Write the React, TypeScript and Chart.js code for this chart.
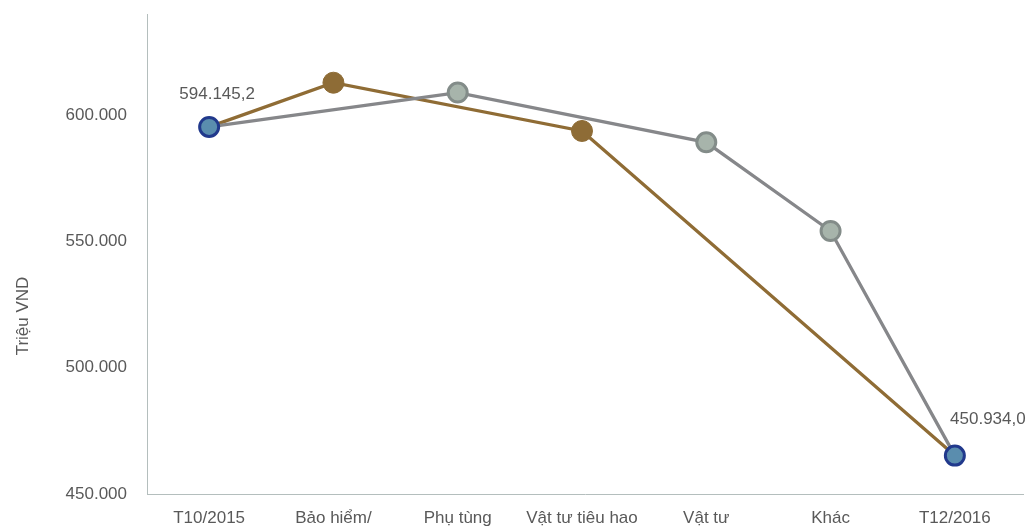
import React, { useEffect, useRef } from "react";
import { Chart, registerables } from "chart.js";

Chart.register(...registerables);

const categories = ["T10/2015", "Bảo hiểm/", "Phụ tùng", "Vật tư tiêu hao", "Vật tư", "Khác", "T12/2016"];
const endpointValues = [595300, null, null, null, null, null, 465200];
const brownValues = [595300, 612800, null, 593700, null, null, 465200];
const grayValues = [595300, null, 608900, null, 589200, 554100, 465200];
const endpointLabels = ["594.145,2", "", "", "", "", "", "450.934,0"];
const yTicks = [450000, 500000, 550000, 600000];
const yTitle = "Triệu VND";

const FONT = "'Liberation Sans', Arial, sans-serif";
const TEXT = "#595959";
const AXIS = "#b4bebd";

function fmt(v: number) {
  return String(v).replace(/\B(?=(\d{3})+(?!\d))/g, ".");
}

export default function App() {
  const ref = useRef<HTMLCanvasElement | null>(null);
  useEffect(() => {
    if (!ref.current) return;
    const extras = {
      id: "extras",
      beforeDatasetsDraw(chart: any) {
        const { ctx, chartArea } = chart;
        ctx.save();
        ctx.strokeStyle = AXIS;
        ctx.lineWidth = 1;
        ctx.beginPath();
        ctx.moveTo(chartArea.left, chartArea.bottom + 0.5);
        ctx.lineTo(1024, chartArea.bottom + 0.5);
        ctx.stroke();
        ctx.translate(23, 316);
        ctx.rotate(-Math.PI / 2);
        ctx.fillStyle = TEXT;
        ctx.font = `17px ${FONT}`;
        ctx.textAlign = "center";
        ctx.textBaseline = "middle";
        ctx.fillText(yTitle, 0, 0);
        ctx.restore();
      },
      afterDatasetsDraw(chart: any) {
        const { ctx } = chart;
        const meta = chart.getDatasetMeta(0);
        ctx.save();
        ctx.fillStyle = TEXT;
        ctx.font = `17px ${FONT}`;
        ctx.textAlign = "center";
        ctx.textBaseline = "middle";
        const offs: Record<number, [number, number]> = { 0: [8, -33], 6: [33, -36] };
        endpointLabels.forEach((t, i) => {
          if (!t) return;
          const p = meta.data[i];
          const o = offs[i] || [0, -30];
          ctx.fillText(t, p.x + o[0], p.y + o[1]);
        });
        ctx.restore();
      },
    };
    const chart = new Chart(ref.current, {
      type: "line",
      data: {
        labels: categories,
        datasets: [
          {
            data: endpointValues,
            showLine: false,
            pointRadius: 9.5,
            pointBorderWidth: 3,
            pointBorderColor: "#21398c",
            pointBackgroundColor: "#5a8dae",
          },
          {
            data: grayValues,
            spanGaps: true,
            borderColor: "#86878a",
            borderWidth: 3.3,
            pointRadius: [0, 0, 9.5, 0, 9.5, 9.5, 0],
            pointBorderWidth: 3,
            pointBorderColor: "#838c89",
            pointBackgroundColor: "#a7b4ab",
          },
          {
            data: brownValues,
            spanGaps: true,
            borderColor: "#8f6c35",
            borderWidth: 3.3,
            pointRadius: [0, 10.5, 0, 10.5, 0, 0, 0],
            pointBorderWidth: 1,
            pointBorderColor: "#8e6c36",
            pointBackgroundColor: "#8e6c36",
          },
        ],
      } as any,
      options: {
        responsive: false,
        animation: false,
        events: [],
        layout: { padding: { top: 14, right: 13, left: 0, bottom: 0 } },
        plugins: { legend: { display: false }, tooltip: { enabled: false } },
        scales: {
          x: {
            offset: true,
            grid: { display: false, drawTicks: false },
            border: { display: false },
            ticks: { color: TEXT, font: { family: FONT, size: 17 }, padding: 14, maxRotation: 0, autoSkip: false },
            afterFit: (s: any) => { s.height = 35; s.paddingLeft = 0; s.paddingRight = 0; },
          },
          y: {
            min: 450000,
            max: 640000,
            grid: { display: false, drawTicks: false },
            border: { display: true, color: AXIS, width: 1 },
            ticks: {
              color: TEXT,
              font: { family: FONT, size: 17 },
              padding: 20,
              stepSize: 50000,
              callback: (v: any) => fmt(Number(v)),
            },
            afterBuildTicks: (s: any) => {
              s.ticks = yTicks.map((v) => ({ value: v }));
            },
            afterFit: (s: any) => { s.width = 147; s.paddingTop = 0; s.paddingBottom = 0; },
          },
        },
      },
      plugins: [extras],
    });
    return () => chart.destroy();
  }, []);
  return (
    <div style={{ position: "fixed", left: 0, top: 0, width: 1030, height: 529, background: "#fff" }}>
      <canvas ref={ref} width={1030} height={529} />
    </div>
  );
}
